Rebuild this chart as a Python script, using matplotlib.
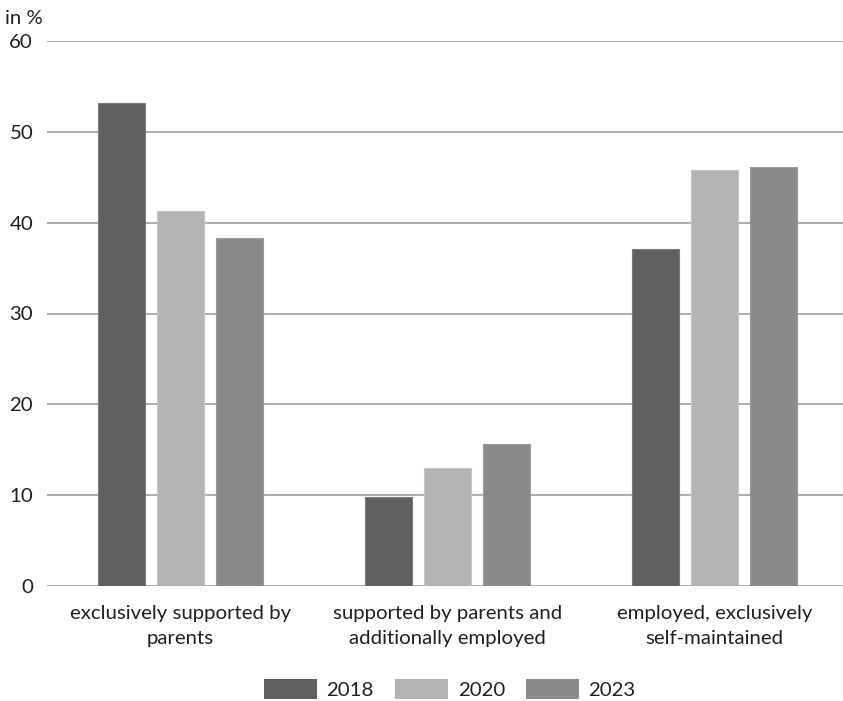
import matplotlib
matplotlib.use("Agg")
import matplotlib.pyplot as plt
from matplotlib.patches import Patch
import numpy as np

plt.rcParams['font.family'] = ['Lato', 'DejaVu Sans']

categories = ["exclusively supported by\nparents",
              "supported by parents and\nadditionally employed",
              "employed, exclusively\nself-maintained"]
years = ["2018", "2020", "2023"]
values_2018 = [53.2, 9.8, 37.1]
values_2020 = [41.3, 13.0, 45.8]
values_2023 = [38.3, 15.6, 46.1]
yticks = [0, 10, 20, 30, 40, 50, 60]

series = [values_2018, values_2020, values_2023]
colors = ["#606060", "#b3b3b3", "#8a8a8a"]
edges = ["#7c7c7c", "#c4c4c4", "#9c9c9c"]
text_color = "#231f20"
fs = 14.7

W, H = 843, 701
fig = plt.figure(figsize=(W / 100, H / 100), dpi=100)
ax = fig.add_axes([47 / W, (H - 586) / H, 796 / W, 545 / H])

x = np.arange(len(categories))
width = 0.176
step = 0.221
for i, (vals, c, e) in enumerate(zip(series, colors, edges)):
    ax.bar(x + (i - 1) * step, vals, width=width, color=c, edgecolor=e,
           linewidth=0.8, zorder=3, label=years[i])

ax.set_xlim(-0.5, -0.5 + 796 / 267)
ax.set_ylim(0, 60)
ax.set_yticks(yticks)
ax.set_yticklabels([str(t) for t in yticks], fontsize=fs, color=text_color)
ax.tick_params(axis='y', length=0, pad=10)
ax.set_xticks(x)
ax.set_xticklabels(categories, fontsize=fs, color=text_color, linespacing=1.55)
ax.tick_params(axis='x', length=0, pad=14)

ax.yaxis.grid(True, color="#969696", linewidth=1.1, zorder=0)
ax.set_axisbelow(True)
for s in ax.spines.values():
    s.set_visible(False)

fig.text(5 / W, 1 - 18 / H, "in %", fontsize=fs, color=text_color,
         ha='left', va='center')

handles = [Patch(facecolor=c, edgecolor='none') for c in colors]
fig.legend(handles, years, loc='center', bbox_to_anchor=(450 / W, 1 - 689 / H),
           ncol=3, frameon=False, fontsize=fs, handlelength=2.6,
           handleheight=1.1, handletextpad=0.45, columnspacing=1.05,
           labelcolor=text_color)

fig.savefig("out.png", dpi=100, facecolor="white")
